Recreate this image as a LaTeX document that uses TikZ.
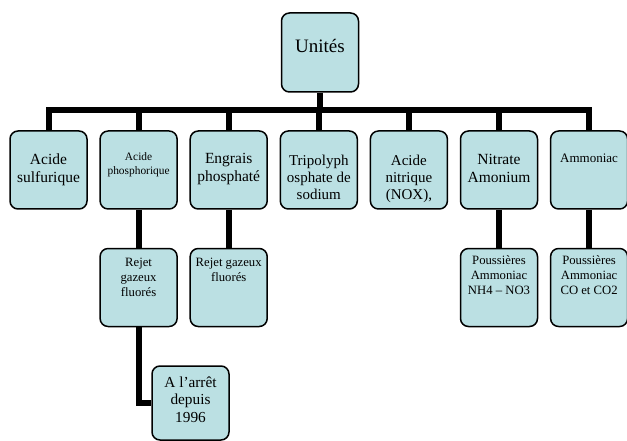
\documentclass[tikz,border=0pt]{standalone}
\usepackage{fontspec}
\setmainfont{Liberation Serif}
\usetikzlibrary{backgrounds}
\definecolor{boxfill}{HTML}{BBE0E3}
\begin{document}
\begin{tikzpicture}[x=1pt,y=-1pt,
  box/.style={draw=black, line width=1.5pt, fill=boxfill, rounded corners=8pt,
    minimum width=77pt, minimum height=78pt, inner sep=0pt},
  conn/.style={line width=6pt, draw=black},
  txt/.style={align=center, inner sep=0pt, text=black},
  fa/.style={font=\fontsize{15.5}{18.4}\selectfont},
  fb/.style={font=\fontsize{15}{17.3}\selectfont},
  fc/.style={font=\fontsize{12.7}{15}\selectfont}]
\useasboundingbox (0,0) rectangle (627,441);

% boxes
\node[box, minimum height=79pt] (u) at (320,52.5) {};
\node[box] (s) at (48.5,170) {};
\node[box] (p) at (138.6,170) {};
\node[box] (e) at (228.7,170) {};
\node[box] (t) at (318.8,170) {};
\node[box] (n) at (408.9,170) {};
\node[box] (a) at (499,170) {};
\node[box] (m) at (589.1,170) {};
\node[box] (r1) at (138.6,287.5) {};
\node[box] (r2) at (228.7,287.5) {};
\node[box] (q1) at (499,287.5) {};
\node[box] (q2) at (589.1,287.5) {};
\node[box, minimum height=74pt] (z) at (190.5,403) {};

% texts
\node[txt, font=\fontsize{19}{22}\selectfont] (tu) at (320,45.5) {Unités};
\node[txt, fa] (ts) at (48.5,169.6) {Acide\\sulfurique};
\node[txt, font=\fontsize{11.4}{13.3}\selectfont] (tp) at (138.6,164.7) {Acide\\phosphorique};
\node[txt, fa] (te) at (228.7,169) {Engrais\\phosphaté};
\node[txt, fb] (tt) at (318.8,177.2) {Tripolyph\\osphate de\\sodium};
\node[txt, fb] (tn) at (408.9,178.7) {Acide\\nitrique\\(NOX),};
\node[txt, fa] (ta) at (499,168.3) {Nitrate\\Amonium};
\node[txt, font=\fontsize{13}{15}\selectfont] (tm) at (589.1,158.4) {Ammoniac};
\node[txt, fc] (tr1) at (138.6,277.8) {Rejet\\gazeux\\fluorés};
\node[txt, fc] (tr2) at (228.7,270.3) {Rejet gazeux\\fluorés};
\node[txt, fc] (tq1) at (499,275.6) {Poussières\\Ammoniac\\NH4 – NO3};
\node[txt, fc] (tq2) at (589.1,275.6) {Poussières\\Ammoniac\\CO et CO2};
\node[txt, font=\fontsize{15.3}{17.5}\selectfont] (tz) at (190.5,399.3) {A l’arrêt\\depuis\\1996};

% connectors
\coordinate (bar) at (320,110);
\begin{scope}[on background layer]
\draw[conn] (u.south) -- (bar);
\foreach \c in {s,p,e,t,n,a,m}{
  \draw[conn] (bar) -| (\c.north);
}
\draw[conn] (p.south) -- (r1.north);
\draw[conn] (e.south) -- (r2.north);
\draw[conn] (a.south) -- (q1.north);
\draw[conn] (m.south) -- (q2.north);
\draw[conn] (r1.south) |- (z.west);
\end{scope}
\end{tikzpicture}
\end{document}
